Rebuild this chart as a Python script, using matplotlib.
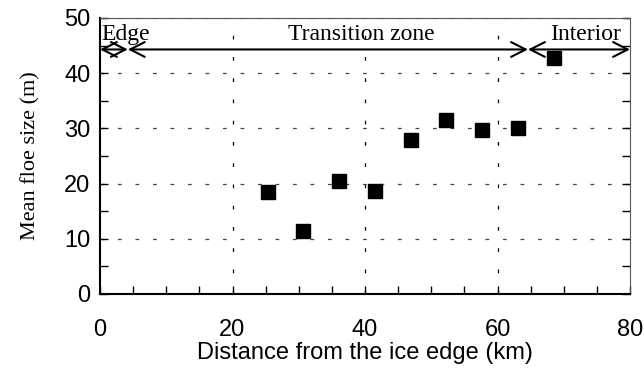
import numpy as np
import matplotlib
matplotlib.use("Agg")
import matplotlib.pyplot as plt
from matplotlib.ticker import MultipleLocator

# mean floe size against distance into the ice
distance_km = [25.3, 30.7, 36.1, 41.5, 46.9, 52.3, 57.7, 63.1, 68.6]
floe_size_m = [18.5, 11.4, 20.5, 18.7, 27.9, 31.5, 29.7, 30.0, 42.8]

# zone boundaries along the top of the plot
zone_bounds = [0, 4.2, 64.6, 80]
zone_names = ["Edge", "Transition zone", "Interior"]
zone_label_x = [0.2, 39.5, 78.6]
zone_label_ha = ["left", "center", "right"]
arrow_y = 44.3
label_y = 46.0

sans = ["Liberation Sans", "DejaVu Sans"]
serif = ["Liberation Serif", "DejaVu Serif"]

fig = plt.figure(figsize=(6.44, 3.76), dpi=100)
ax = fig.add_axes([100 / 644, 1 - 294 / 376, 530 / 644, 276 / 376])

ax.plot(distance_km, floe_size_m, "s", color="black", markersize=10, zorder=5)

ax.set_xlim(0, 80)
ax.set_ylim(0, 50)
ax.xaxis.set_major_locator(MultipleLocator(20))
ax.xaxis.set_minor_locator(MultipleLocator(5))
ax.yaxis.set_major_locator(MultipleLocator(10))
ax.yaxis.set_minor_locator(MultipleLocator(5))

ax.tick_params(which="both", direction="in", right=True, top=False)
ax.tick_params(which="major", length=6, width=1)
ax.tick_params(which="minor", length=6, width=1)
ax.tick_params(axis="x", pad=18, labelsize=17)
ax.tick_params(axis="y", pad=7, labelsize=17)
for lab in ax.get_xticklabels() + ax.get_yticklabels():
    lab.set_family(sans)

# dashed grid at the major ticks
for gx in [20, 40, 60]:
    ax.axvline(gx, color="black", lw=0.9, linestyle=(0, (3, 14)), zorder=1)
for gy in [10, 20, 30, 40, 50]:
    ax.axhline(gy, color="#444444", lw=0.9, linestyle=(0, (3, 11)), zorder=1)

for side in ["left", "bottom"]:
    ax.spines[side].set_linewidth(1.5)
    ax.spines[side].set_color("black")
for side in ["top", "right"]:
    ax.spines[side].set_linewidth(0.8)
    ax.spines[side].set_color("#555555")

# zone arrows and names
for i in range(len(zone_names)):
    ax.annotate("", xy=(zone_bounds[i + 1], arrow_y), xytext=(zone_bounds[i], arrow_y),
                arrowprops=dict(arrowstyle="<->,head_length=0.75,head_width=0.38",
                                mutation_scale=14, lw=1.5, color="black",
                                shrinkA=0, shrinkB=0),
                annotation_clip=False, zorder=6)
    ax.text(zone_label_x[i], label_y, zone_names[i], ha=zone_label_ha[i], va="baseline",
            fontsize=17, family=serif, zorder=6)

ax.set_xlabel("Distance from the ice edge (km)", fontsize=17, family=sans, labelpad=1)
ax.set_ylabel("Mean floe size (m)", fontsize=16, family=serif, labelpad=17)

fig.savefig("out.png", dpi=100)
